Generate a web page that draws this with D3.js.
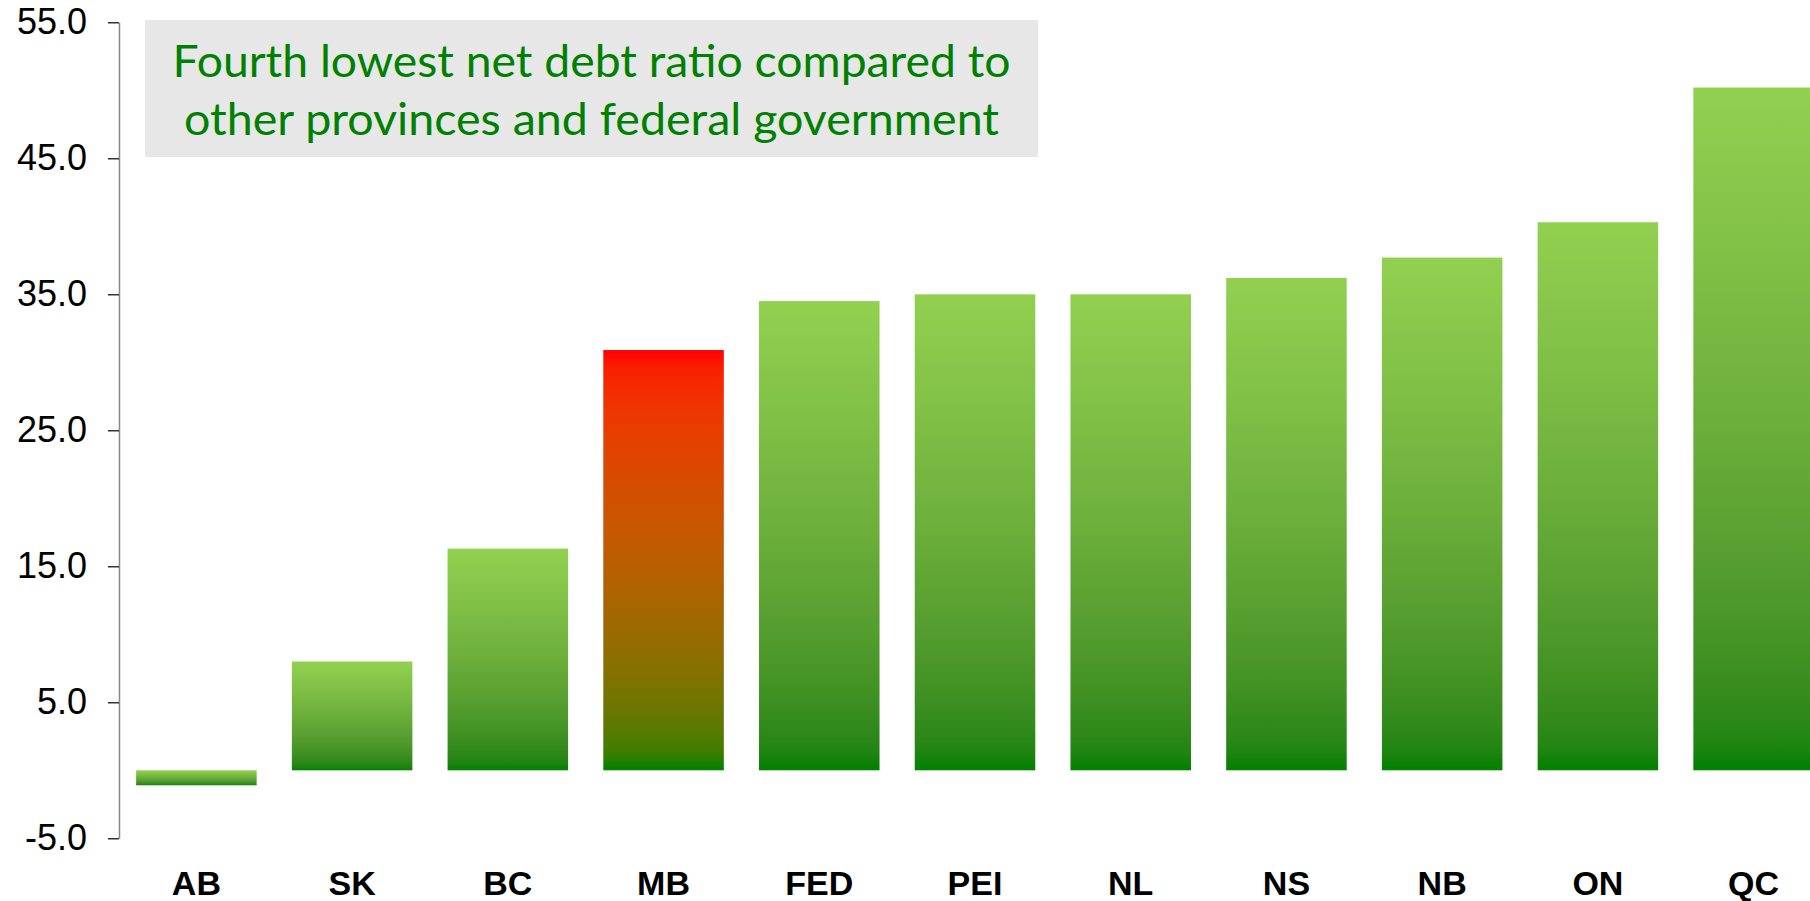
<!DOCTYPE html>
<html>
<head>
<meta charset="utf-8">
<script src="https://cdn.jsdelivr.net/npm/d3@7"></script>
<style>
  html, body { margin: 0; padding: 0; background: #ffffff; overflow: hidden; }
  svg { display: block; }
</style>
</head>
<body>
<svg id="chart" width="1810" height="901"></svg>
<script>
// Net debt ratio by jurisdiction
const categories = ["AB", "SK", "BC", "MB", "FED", "PEI", "NL", "NS", "NB", "ON", "QC"];
const values = [-1.1, 8.0, 16.3, 30.9, 34.5, 35.0, 35.0, 36.2, 37.7, 40.3, 50.2];
const highlighted = ["MB"];
const yTicks = [-5, 5, 15, 25, 35, 45, 55];
const titleLines = ["Fourth lowest net debt ratio compared to", "other provinces and federal government"];

const data = categories.map((c, i) => ({ cat: c, value: values[i] }));

const svg = d3.select("#chart");

const x = d3.scaleBand()
  .domain(categories)
  .range([119, 1831])
  .paddingInner(0.226)
  .paddingOuter(0.11);

const y = d3.scaleLinear()
  .domain([-5, 55])
  .range([838.3, 22.3]);

// vertical gradients, interpolated in linear light
const defs = svg.append("defs");
function makeGradient(id, top, bottom) {
  const interp = d3.interpolateRgb.gamma(2.2)(top, bottom);
  const g = defs.append("linearGradient")
    .attr("id", id)
    .attr("x1", 0).attr("y1", 0)
    .attr("x2", 0).attr("y2", 1);
  const n = 24;
  for (let i = 0; i <= n; i++) {
    const t = i / n;
    g.append("stop").attr("offset", t).attr("stop-color", interp(t));
  }
}
makeGradient("gradGreen", "#92d050", "#008000");
makeGradient("gradRed", "#ff0000", "#008000");

// bars
svg.append("g")
  .selectAll("rect")
  .data(data)
  .join("rect")
  .attr("x", d => x(d.cat))
  .attr("width", x.bandwidth())
  .attr("y", d => y(Math.max(0, d.value)))
  .attr("height", d => Math.abs(y(d.value) - y(0)))
  .attr("fill", d => highlighted.includes(d.cat) ? "url(#gradRed)" : "url(#gradGreen)");

// y axis (plain hyphen for negatives)
const fmt = d3.formatLocale({ decimal: ".", thousands: ",", grouping: [3], currency: ["", ""], minus: "-" }).format(".1f");
const yAxis = svg.append("g")
  .attr("transform", "translate(119,0)")
  .call(d3.axisLeft(y).tickValues(yTicks).tickFormat(fmt).tickSize(11).tickSizeOuter(0).tickPadding(21));
yAxis.select(".domain").attr("stroke", "#868686").attr("stroke-width", 1.5);
yAxis.selectAll(".tick line").attr("stroke", "#000000").attr("stroke-width", 1.2);
yAxis.selectAll(".tick text")
  .attr("fill", "#000000")
  .style("font-family", "'Liberation Sans', Arial, sans-serif")
  .style("font-size", "36px");

// category labels
const xAxis = svg.append("g")
  .attr("transform", "translate(0,895)")
  .call(d3.axisBottom(x).tickSize(0).tickPadding(0));
xAxis.select(".domain").remove();
xAxis.selectAll(".tick text")
  .attr("dy", 0)
  .attr("y", 0)
  .attr("fill", "#000000")
  .style("font-family", "'Liberation Sans', Arial, sans-serif")
  .style("font-weight", "bold")
  .style("font-size", "34px");

// title box
const box = { x0: 145, y0: 20, x1: 1038, y1: 157 };
svg.append("rect")
  .attr("x", box.x0).attr("y", box.y0)
  .attr("width", box.x1 - box.x0).attr("height", box.y1 - box.y0)
  .attr("fill", "#e7e7e7");

const lineWidths = [838, 815];
const cx = (box.x0 + box.x1) / 2;
svg.append("g")
  .selectAll("text")
  .data(titleLines)
  .join("text")
  .attr("x", cx)
  .attr("y", (d, i) => 76.7 + i * 58.3)
  .attr("text-anchor", "middle")
  .attr("fill", "#008000")
  .attr("textLength", (d, i) => lineWidths[i])
  .attr("lengthAdjust", "spacingAndGlyphs")
  .style("font-family", "Lato, 'Open Sans', sans-serif")
  .style("font-size", "45px")
  .text(d => d);
</script>
</body>
</html>
